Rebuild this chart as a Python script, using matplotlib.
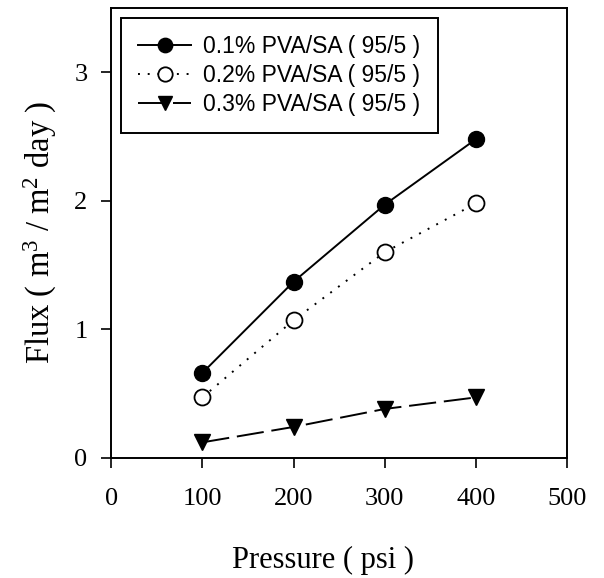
import matplotlib
matplotlib.use("Agg")
import matplotlib.pyplot as plt

pressure = [100, 200, 300, 400]
flux_01 = [0.66, 1.37, 1.97, 2.48]
flux_02 = [0.47, 1.07, 1.60, 1.98]
flux_03 = [0.12, 0.24, 0.38, 0.47]
labels = ["0.1% PVA/SA ( 95/5 )", "0.2% PVA/SA ( 95/5 )", "0.3% PVA/SA ( 95/5 )"]

plt.rcParams["mathtext.fontset"] = "custom"
plt.rcParams["mathtext.rm"] = "Liberation Serif"
plt.rcParams["mathtext.it"] = "Liberation Serif:italic"


def main():
    fig = plt.figure(figsize=(6.04, 5.78), dpi=100)
    ax = fig.add_axes([0.184, 0.208, 0.755, 0.778])

    ax.plot(pressure, flux_01, "-", color="black", lw=1.4,
            marker="o", ms=11.5, mfc="black", mec="black", label=labels[0])
    ax.plot(pressure, flux_02, color="black", lw=1.4, dashes=(1, 4),
            marker="o", ms=11.5, mfc="white", mec="black", mew=1.3, label=labels[1])
    ax.plot(pressure, flux_03, color="black", lw=1.4, dashes=(14, 4),
            marker="v", ms=11.5, mfc="black", mec="black", label=labels[2])

    ax.set_xlim(0, 500)
    ax.set_ylim(0, 3.5)
    ax.set_xticks([0, 100, 200, 300, 400, 500])
    ax.set_yticks([0, 1, 2, 3])
    ax.tick_params(direction="out", length=7, width=1.2, labelsize=19)
    ax.tick_params(axis="x", pad=15)
    ax.tick_params(axis="y", pad=10)
    for lab in ax.get_xticklabels() + ax.get_yticklabels():
        lab.set_family("Liberation Serif")
    for sp in ax.spines.values():
        sp.set_linewidth(1.4)

    ax.set_xlabel("Pressure ( psi )", family="Liberation Serif", fontsize=22)
    ax.xaxis.set_label_coords(0.465, -0.195)
    ax.set_ylabel(r"Flux ( m$^3$ / m$^2$ day )", family="Liberation Serif",
                  fontsize=23.5, labelpad=11)

    leg = ax.legend(loc="upper left", prop={"family": "Liberation Sans", "size": 16.5},
                    handlelength=2.3, fancybox=False, edgecolor="black", markerscale=0.9,
                    framealpha=1, borderaxespad=0.43, borderpad=0.75,
                    labelspacing=0.25, handletextpad=0.55)
    leg.get_frame().set_linewidth(1.4)

    fig.savefig("out.png", dpi=100)


if __name__ == "__main__":
    main()
